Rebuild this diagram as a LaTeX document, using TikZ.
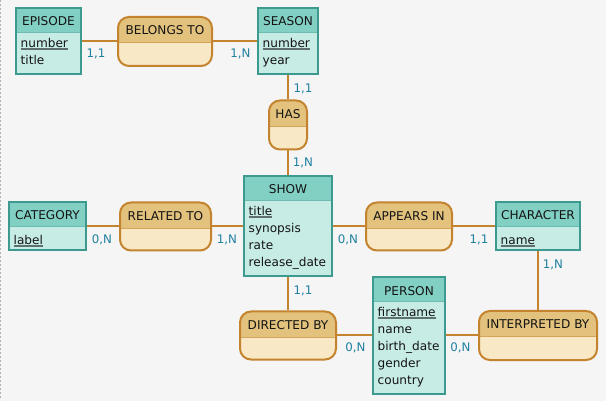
\documentclass[tikz,border=0pt]{standalone}
\usepackage{fontspec}
\setmainfont{DejaVu Sans}
\usetikzlibrary{positioning}

\definecolor{bgcol}{HTML}{F5F5F5}
\definecolor{dotgray}{HTML}{B4B4B4}
\definecolor{entline}{HTML}{3D9A8F}
\definecolor{enthead}{HTML}{82CFC3}
\definecolor{entbody}{HTML}{C7EBE5}
\definecolor{entsep}{HTML}{6CBDB1}
\definecolor{relline}{HTML}{C4842F}
\definecolor{relhead}{HTML}{E2C27D}
\definecolor{relbody}{HTML}{F8E8C5}
\definecolor{relsep}{HTML}{D2A65A}
\definecolor{cardtext}{HTML}{2080A0}
\definecolor{keyline}{HTML}{5F6F6F}
\definecolor{txt}{HTML}{141414}

% underlined key attribute
\newcommand\keyattr[1]{\setbox0\hbox{#1}\rlap{\color{keyline}\rule[-2.9pt]{\wd0}{1.8pt}}\box0}

\begin{document}
\begin{tikzpicture}[x=1pt,y=-1pt,
  font=\fontsize{12.1}{17}\selectfont,text=txt,
  entity/.style={draw=entline,line width=2pt,fill=entbody,inner sep=0pt,
    path picture={\fill[enthead] (path picture bounding box.north west) rectangle ([yshift=-24pt]path picture bounding box.north east);
      \draw[entsep,line width=1pt] ([yshift=-24.5pt]path picture bounding box.north west) -- ([yshift=-24.5pt]path picture bounding box.north east);}},
  rel/.style={draw=relline,line width=2pt,fill=relbody,inner sep=0pt,rounded corners=11pt,
    path picture={\fill[relhead,sharp corners] (path picture bounding box.north west) rectangle ([yshift=-25.5pt]path picture bounding box.north east);
      \draw[relsep,line width=1pt,sharp corners] ([yshift=-26pt]path picture bounding box.north west) -- ([yshift=-26pt]path picture bounding box.north east);}},
  enttitle/.style={anchor=base,inner sep=0pt},
  attrs/.style={anchor=north west,align=left,inner sep=0pt,execute at begin node={\rule{0pt}{12pt}}},
  card/.style={text=cardtext,inner sep=0pt,font=\fontsize{11.8}{14}\selectfont},
  link/.style={draw=relline,line width=2pt}]

  \fill[bgcol] (0,0) rectangle (606,400);
  \draw[dotgray,line width=1pt,dash pattern=on 2pt off 2pt] (0.5,0) -- (0.5,400);

  % entities
  \node[entity,minimum width=65pt,minimum height=66pt] (episode) at (48.5,41) {};
  \node[entity,minimum width=60pt,minimum height=66pt] (season) at (288,41) {};
  \node[entity,minimum width=88pt,minimum height=100pt] (show) at (288,226) {};
  \node[entity,minimum width=77pt,minimum height=48pt] (category) at (47.5,226) {};
  \node[entity,minimum width=84pt,minimum height=48pt] (character) at (538,226) {};
  \node[entity,minimum width=72pt,minimum height=116pt] (person) at (409,335) {};

  \node[enttitle] (episode-t) at ([yshift=-18.5pt]episode.north) {EPISODE};
  \node[enttitle] (season-t) at ([yshift=-18.5pt]season.north) {SEASON};
  \node[enttitle] (show-t) at ([yshift=-18.5pt]show.north) {SHOW};
  \node[enttitle] (category-t) at ([yshift=-18.5pt]category.north) {CATEGORY};
  \node[enttitle] (character-t) at ([yshift=-18.5pt]character.north) {CHARACTER};
  \node[enttitle] (person-t) at ([yshift=-18.5pt]person.north) {PERSON};

  \node[attrs] (episode-a) at ([shift={(5.5pt,-30.5pt)}]episode.north west) {\keyattr{number}\\title};
  \node[attrs] (season-a) at ([shift={(5.5pt,-30.5pt)}]season.north west) {\keyattr{number}\\year};
  \node[attrs] (show-a) at ([shift={(5.5pt,-30.5pt)}]show.north west) {\keyattr{title}\\synopsis\\rate\\release\_date};
  \node[attrs] (category-a) at ([shift={(5.5pt,-30.5pt)}]category.north west) {\keyattr{label}};
  \node[attrs] (character-a) at ([shift={(5.5pt,-30.5pt)}]character.north west) {\keyattr{name}};
  \node[attrs] (person-a) at ([shift={(5.5pt,-30.5pt)}]person.north west) {\keyattr{firstname}\\name\\birth\_date\\gender\\country};

  % relationships
  \node[rel,minimum width=94pt,minimum height=49pt] (belongs) at (165,41) {};
  \node[rel,minimum width=38pt,minimum height=49pt] (has) at (288,124.5) {};
  \node[rel,minimum width=91pt,minimum height=48pt] (related) at (165.5,226) {};
  \node[rel,minimum width=86pt,minimum height=48pt] (appears) at (409,226) {};
  \node[rel,minimum width=96pt,minimum height=48pt] (directed) at (288,335) {};
  \node[rel,minimum width=118pt,minimum height=49pt] (interpreted) at (538,335) {};

  \node[enttitle] (belongs-t) at ([yshift=-19pt]belongs.north) {BELONGS TO};
  \node[enttitle] (has-t) at ([yshift=-19pt]has.north) {HAS};
  \node[enttitle] (related-t) at ([yshift=-19pt]related.north) {RELATED TO};
  \node[enttitle] (appears-t) at ([yshift=-19pt]appears.north) {APPEARS IN};
  \node[enttitle] (directed-t) at ([yshift=-19pt]directed.north) {DIRECTED BY};
  \node[enttitle] (interpreted-t) at ([yshift=-19pt]interpreted.north) {INTERPRETED BY};

  \path[link]
    (episode) edge (belongs)
    (belongs) edge (season)
    (season) edge (has)
    (has) edge (show)
    (category) edge (related)
    (related) edge (show)
    (show) edge (appears)
    (appears) edge (character)
    (show) edge (directed)
    (directed) edge (person)
    (person) edge (interpreted)
    (character) edge (interpreted);

  % cardinalities
  \node[card] (c-episode) at ([shift={(14pt,-12pt)}]episode.east) {1,1};
  \node[card] (c-season-w) at ([shift={(-16.5pt,-12pt)}]season.west) {1,N};
  \node[card] (c-season-s) at ([shift={(15pt,-13pt)}]season.south) {1,1};
  \node[card] (c-show-n) at ([shift={(15pt,13pt)}]show.north) {1,N};
  \node[card] (c-category) at ([shift={(15pt,-13pt)}]category.east) {0,N};
  \node[card] (c-show-w) at ([shift={(-16pt,-13pt)}]show.west) {1,N};
  \node[card] (c-show-e) at ([shift={(15pt,-13pt)}]show.east) {0,N};
  \node[card] (c-character-w) at ([shift={(-16pt,-13pt)}]character.west) {1,1};
  \node[card] (c-character-s) at ([shift={(15pt,-13pt)}]character.south) {1,N};
  \node[card] (c-show-s) at ([shift={(15pt,-13pt)}]show.south) {1,1};
  \node[card] (c-person-w) at ([shift={(-16.5pt,-12pt)}]person.west) {0,N};
  \node[card] (c-person-e) at ([shift={(14.5pt,-12pt)}]person.east) {0,N};
\end{tikzpicture}
\end{document}
